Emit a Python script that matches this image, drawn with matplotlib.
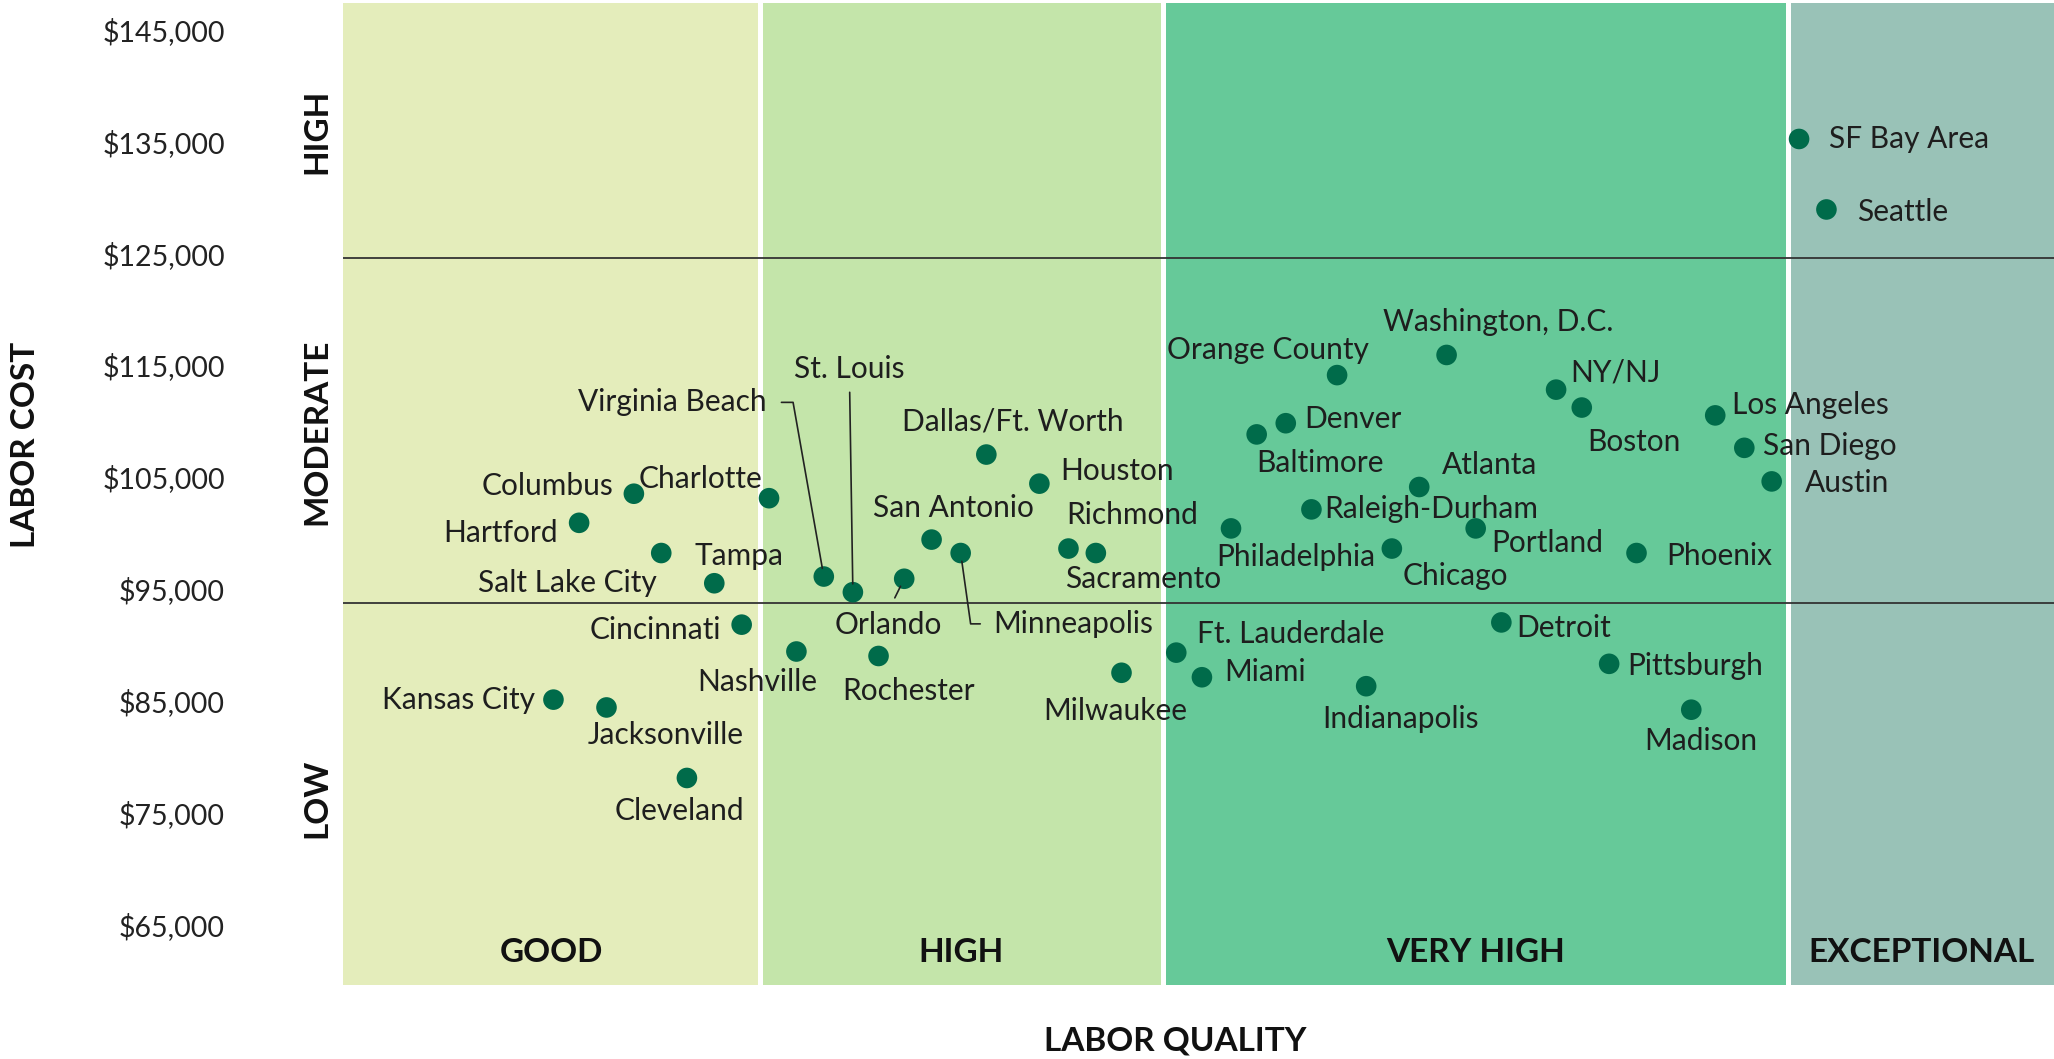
import matplotlib.pyplot as plt
from matplotlib.ticker import FuncFormatter
from matplotlib.transforms import blended_transform_factory

plt.rcParams["font.family"] = ["Lato", "DejaVu Sans"]

# Metro areas: labor quality index (0-100) and average annual labor cost
cities = [
    "SF Bay Area", "Seattle", "Washington, D.C.", "Orange County", "NY/NJ",
    "Boston", "Los Angeles", "Denver", "Baltimore", "San Diego",
    "Dallas/Ft. Worth", "Houston", "Austin", "Atlanta", "Columbus",
    "Charlotte", "Raleigh-Durham", "Hartford", "Philadelphia", "Portland",
    "San Antonio", "Minneapolis", "Richmond", "Sacramento", "Chicago",
    "Phoenix", "Tampa", "Virginia Beach", "St. Louis", "Orlando",
    "Salt Lake City", "Cincinnati", "Detroit", "Nashville", "Rochester",
    "Ft. Lauderdale", "Pittsburgh", "Milwaukee", "Miami", "Indianapolis",
    "Kansas City", "Jacksonville", "Madison", "Cleveland",
]
quality = [
    85.1, 86.7, 64.5, 58.1, 70.9,
    72.4, 80.2, 55.1, 53.4, 81.9,
    37.6, 40.7, 83.5, 62.9, 17.0,
    24.9, 56.6, 13.8, 51.9, 66.2,
    34.4, 36.1, 42.4, 44.0, 61.3,
    75.6, 18.6, 28.1, 29.8, 32.8,
    21.7, 23.3, 67.7, 26.5, 31.3,
    48.7, 74.0, 45.5, 50.2, 59.8,
    12.3, 15.4, 78.8, 20.1,
]
cost = [
    135200, 128900, 115900, 114100, 112800,
    111200, 110500, 109800, 108800, 107600,
    107000, 104400, 104600, 104100, 103500,
    103100, 102100, 100900, 100400, 100400,
    99400, 98200, 98600, 98200, 98600,
    98200, 98200, 96100, 94700, 95900,
    95500, 91800, 92000, 89400, 89000,
    89300, 88300, 87500, 87100, 86300,
    85100, 84400, 84200, 78100,
]

quality_bands = ["GOOD", "HIGH", "VERY HIGH", "EXCEPTIONAL"]
band_edges = [0, 24.35, 47.93, 84.46, 100]
band_colors = ["#E4EDBB", "#C4E5AA", "#66C999", "#99C2B7"]

cost_tiers = ["LOW", "MODERATE", "HIGH"]
tier_lines = [93700, 124600]
tier_label_y = [76300, 109000, 135900]

yticks = list(range(65000, 145001, 10000))

DOT = "#006B4A"
TEXT = "#1E1E1E"

# label placement: (dx, dy) in points from the dot, horizontal alignment
label_pos = {
    "SF Bay Area": (21.7, 0, "left"),
    "Seattle": (21.7, -2, "left"),
    "Washington, D.C.": (36.8, 23.6, "center"),
    "Orange County": (-50, 17.9, "center"),
    "NY/NJ": (10.4, 12.3, "left"),
    "Boston": (3.8, -24.5, "left"),
    "Los Angeles": (12.3, 7.5, "left"),
    "San Diego": (13.2, 1, "left"),
    "Austin": (23.6, -1, "left"),
    "Denver": (13.2, 2.8, "left"),
    "Baltimore": (0, -20.7, "left"),
    "Dallas/Ft. Worth": (18.9, 23.6, "center"),
    "Houston": (15.1, 9.4, "left"),
    "Atlanta": (16, 16, "left"),
    "Raleigh-Durham": (9.4, 0, "left"),
    "Columbus": (-15, 5.7, "right"),
    "Charlotte": (-4.7, 14, "right"),
    "Hartford": (-15, -7.5, "right"),
    "Philadelphia": (46.7, -20.7, "center"),
    "Portland": (11.3, -10.4, "left"),
    "Chicago": (7.5, -19.8, "left"),
    "Phoenix": (21.7, -1.9, "left"),
    "San Antonio": (16, 22.6, "center"),
    "Richmond": (46.2, 24.5, "center"),
    "Sacramento": (33.9, -18.9, "center"),
    "Tampa": (23.6, -1.9, "left"),
    "Salt Lake City": (-41.5, 0, "right"),
    "Cincinnati": (-15, -3.8, "right"),
    "Detroit": (10.4, -3.8, "left"),
    "Nashville": (-28.3, -21.7, "center"),
    "Rochester": (21.7, -25.5, "center"),
    "Ft. Lauderdale": (15.1, 13.2, "left"),
    "Pittsburgh": (13.2, -1.9, "left"),
    "Milwaukee": (-4.7, -27.3, "center"),
    "Miami": (16, 3.8, "left"),
    "Indianapolis": (24.5, -23.6, "center"),
    "Kansas City": (-13.2, 0, "right"),
    "Jacksonville": (42.4, -19.8, "center"),
    "Madison": (6.6, -22.6, "center"),
    "Cleveland": (-5.7, -23.6, "center"),
}

# labels that sit away from their dot and need a leader line:
# offset, alignment, anchor on the text, shrink at text, connection style
leader_pos = {
    "Virginia Beach": ((-41.5, 125.4), "right", (1, 0.5), 9, "angle,angleA=0,angleB=100"),
    "St. Louis": ((-2.4, 161), "center", (0.5, 0), 5, "arc3"),
    "Orlando": ((-11.3, -33), "center", (0.5, 1), 8, "arc3"),
    "Minneapolis": ((23.6, -51), "left", (0, 0.5), 7.5, "angle,angleA=0,angleB=-82"),
}

fig = plt.figure(figsize=(20.54, 10.59), dpi=100)
ax = fig.add_axes([343 / 2054, 1 - 985 / 1059, 1 - 343 / 2054, (985 - 3) / 1059])

for lo, hi, color, name in zip(band_edges[:-1], band_edges[1:], band_colors, quality_bands):
    ax.axvspan(lo, hi, color=color, lw=0, zorder=0)
    ax.text((lo + hi) / 2, 62500, name, ha="center", va="center",
            fontsize=24, fontweight="bold", color="#111111", zorder=3)
for edge in band_edges[1:-1]:
    ax.axvline(edge, color="white", lw=3.6, zorder=1)

for level in tier_lines:
    ax.axhline(level, color="#333333", lw=1.3, zorder=1)

ax.scatter(quality, cost, s=220, color=DOT, edgecolors="none", zorder=4)

for name, x, y in zip(cities, quality, cost):
    if name in label_pos:
        dx, dy, ha = label_pos[name]
        ax.annotate(name, (x, y), xytext=(dx, dy), textcoords="offset points",
                    ha=ha, va="center", fontsize=21.5, color=TEXT, zorder=5)
    else:
        (dx, dy), ha, rel, shrink, conn = leader_pos[name]
        ax.annotate(name, (x, y), xytext=(dx, dy), textcoords="offset points",
                    ha=ha, va="center", fontsize=21.5, color=TEXT, zorder=5,
                    arrowprops=dict(arrowstyle="-", color="#222222", lw=1.2,
                                    relpos=rel, shrinkA=shrink, shrinkB=6,
                                    connectionstyle=conn))

ax.set_xlim(band_edges[0], band_edges[-1])
ax.set_ylim(59600, 147350)
ax.set_yticks(yticks)
ax.yaxis.set_major_formatter(FuncFormatter(lambda v, _: f"${v:,.0f}"))
ax.tick_params(axis="y", length=0, pad=85, labelsize=20.5, labelcolor="#222222")
ax.set_xticks([])
for spine in ax.spines.values():
    spine.set_visible(False)

trans = blended_transform_factory(ax.transAxes, ax.transData)
for name, yc in zip(cost_tiers, tier_label_y):
    ax.text(-0.0155, yc, name, transform=trans, rotation=90, ha="center",
            va="center", fontsize=24, fontweight="bold", color="#111111")

fig.text(26 / 2054, 1 - 445 / 1059, "LABOR COST", rotation=90, ha="center",
         va="center", fontsize=24, fontweight="bold", color="#111111")
fig.text(1175 / 2054, 1 - 1041 / 1059, "LABOR QUALITY", ha="center",
         va="center", fontsize=24, fontweight="bold", color="#111111")

fig.savefig("out.png", dpi=100)
